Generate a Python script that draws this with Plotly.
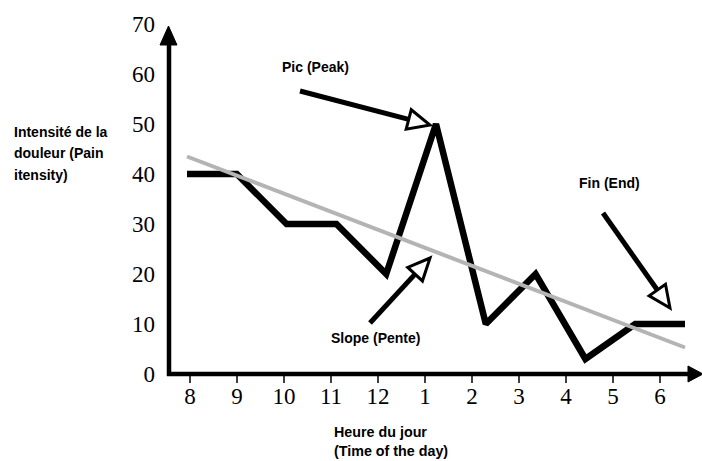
import math
import plotly.graph_objects as go

# ---- data ----
hours = ["8", "9", "10", "11", "12", "1", "2", "3", "4", "5", "6"]
pain = [40, 40, 30, 30, 20, 50, 10, 20, 3, 10, 10]
trend_ends = [43.5, 5.3]          # grey slope line, value at first and last hour
y_ticks = [0, 10, 20, 30, 40, 50, 60, 70]

# ---- geometry ----
W, H = 702, 461
L, R, T, B = 168, 0, 0, 87
PW = W - L - R
PH = H - T - B
TICK0, TICKSTEP = 190, 47.0        # pixel of first category tick, spacing
DATA0, DATASTEP = 187, 49.8        # pixel of first data vertex, spacing
YSCALE = 5.0                       # px per unit


def px(x):
    return (x - L) / PW


def py(y):
    return (H - B - y) / PH


idx = list(range(len(hours)))

fig = go.Figure()
# carrier for the hour axis (no visible marks)
fig.add_trace(go.Scatter(
    x=idx, y=[None] * len(idx), xaxis="x", mode="markers",
    hoverinfo="skip", showlegend=False))
fig.add_trace(go.Scatter(
    x=idx, y=pain, xaxis="x2", mode="lines",
    line=dict(color="black", width=6.5), hoverinfo="skip", showlegend=False))
fig.add_trace(go.Scatter(
    x=[idx[0], idx[-1]], y=trend_ends, xaxis="x2", mode="lines",
    line=dict(color="#b4b4b4", width=4), hoverinfo="skip", showlegend=False))

a1 = -(TICK0 - L) / TICKSTEP
a2 = -(DATA0 - L) / DATASTEP
serif = dict(family="Liberation Serif, Times New Roman, serif", size=23, color="black")

shapes = []


def seg(x0, y0, x1, y1, w):
    shapes.append(dict(type="line", xref="paper", yref="paper",
                       x0=px(x0), y0=py(y0), x1=px(x1), y1=py(y1),
                       line=dict(color="black", width=w)))


def tri(pts, fill, lw):
    d = "M " + " L ".join(f"{px(a):.5f},{py(b):.5f}" for a, b in pts) + " Z"
    shapes.append(dict(type="path", xref="paper", yref="paper", path=d,
                       fillcolor=fill, line=dict(color="black", width=lw)))


def open_arrow(x0, y0, tx, ty, hl=22, hw=10):
    dx, dy = tx - x0, ty - y0
    n = math.hypot(dx, dy)
    ux, uy = dx / n, dy / n
    bx, by = tx - hl * ux, ty - hl * uy
    seg(x0, y0, bx, by, 5)
    tri([(tx, ty), (bx - hw * uy, by + hw * ux), (bx + hw * uy, by - hw * ux)], "white", 3)


# hour tick marks (placed on the hour axis)
for k in idx:
    shapes.append(dict(type="line", xref="x", yref="paper", x0=k, x1=k,
                       y0=py(374), y1=py(383), line=dict(color="black", width=1.5)))

# axes with arrowheads
seg(169, 376, 169, 44, 4.5)
tri([(160, 45), (177, 45), (168.5, 26)], "black", 1)
seg(167, 374, 690, 374, 4.5)
tri([(688, 366), (688, 382), (703, 374)], "black", 1)

# annotation arrows
open_arrow(300, 91, 430, 125)
open_arrow(603, 213, 670, 308)
open_arrow(370, 323, 430, 258)

sans = dict(family="Liberation Sans, Arial, sans-serif", size=14, color="black")


def label(text, x, y, xanchor="center", size=14):
    return dict(text=f"<b>{text}</b>", xref="paper", yref="paper", x=px(x), y=py(y),
                xanchor=xanchor, yanchor="middle", showarrow=False, align="left",
                font=dict(sans, size=size))


annotations = [
    label("Pic (Peak)", 315, 67),
    label("Fin (End)", 609, 183),
    label("Slope (Pente)", 375, 338),
    label("Intensité de la", 12, 132, "left"),
    label("douleur (Pain", 12, 153, "left"),
    label("itensity)", 12, 175, "left"),
    label("Heure du jour<br>(Time of the day)", 332, 441, "left", 14.3),
]

fig.update_layout(
    width=W, height=H,
    margin=dict(l=L, r=R, t=T, b=B, pad=0),
    paper_bgcolor="white", plot_bgcolor="white",
    showlegend=False,
    xaxis=dict(range=[a1, a1 + PW / TICKSTEP], tickmode="array", tickvals=idx, ticktext=hours,
               ticks="", ticklabelstandoff=6,
               showline=False, showgrid=False, zeroline=False, tickfont=serif, fixedrange=True),
    xaxis2=dict(range=[a2, a2 + PW / DATASTEP], overlaying="x", visible=False, fixedrange=True),
    yaxis=dict(range=[0, PH / YSCALE], tickmode="array", tickvals=y_ticks,
               ticks="", showline=False, showgrid=False, zeroline=False,
               tickfont=serif, ticklabelstandoff=12, fixedrange=True),
    shapes=shapes,
    annotations=annotations,
)

fig.write_html("out.html", config={"displayModeBar": False},
               post_script="document.body.style.margin='0';document.body.style.overflow='hidden';")
